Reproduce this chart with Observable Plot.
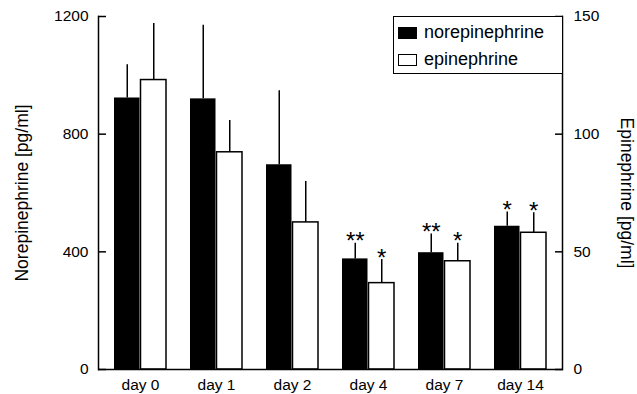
<!DOCTYPE html>
<html><head><meta charset="utf-8">
<script src="https://cdn.jsdelivr.net/npm/d3@7"></script>
<script src="https://cdn.jsdelivr.net/npm/@observablehq/plot@0.6"></script>
<style>
body{margin:0;background:#fff;}
#wrap{position:relative;width:637px;height:394px;font-family:"Liberation Sans",Arial,sans-serif;}
#legend{position:absolute;left:393px;top:16px;width:170px;height:58px;box-sizing:border-box;border:1.5px solid #000;background:#fff;font-size:18px;color:#000;}
.item{position:absolute;left:4px;display:flex;align-items:center;}
.sw{width:19px;height:12px;box-sizing:border-box;margin-right:7px;}
</style></head>
<body><div id="wrap"></div>
<script>
const days = ["day 0", "day 1", "day 2", "day 4", "day 7", "day 14"];
const norepinephrine = [923, 920, 696, 376, 397, 487];
const norepinephrineSD = [113, 250, 252, 53, 64, 48];
const epinephrine = [123, 92.3, 62.5, 36.7, 46, 58.1];
const epinephrineSD = [24, 13.5, 17.4, 10, 7.7, 8.5];
const norStars = ["", "", "", "**", "**", "*"];
const epiStars = ["", "", "", "*", "*", "*"];
const leftTicks = [0, 400, 800, 1200];
const ratio = 1200 / 150; // right axis 0–150 mapped onto left 0–1200

const nor = days.map((d, i) => ({day: d, v: norepinephrine[i], top: norepinephrine[i] + norepinephrineSD[i], star: norStars[i]}));
const epi = days.map((d, i) => ({day: d, v: epinephrine[i] * ratio, top: (epinephrine[i] + epinephrineSD[i]) * ratio, star: epiStars[i]}));

const half = 26.5;
const font = "'Liberation Sans', Arial, sans-serif";

const plot = Plot.plot({
  width: 637, height: 394,
  marginLeft: 98, marginRight: 75, marginTop: 16, marginBottom: 25,
  style: {fontFamily: font, background: "#fff", color: "#000"},
  x: {domain: days, paddingInner: 0.312, paddingOuter: 0.169},
  y: {domain: [0, 1200]},
  marks: [
    Plot.barY(nor, {x: "day", y: "v", fill: "black", insetRight: half}),
    Plot.barY(epi, {x: "day", y: "v", fill: "white", stroke: "black", strokeWidth: 1.5, insetLeft: half}),
    Plot.ruleX(nor, {x: "day", y1: "v", y2: "top", dx: -half / 2, strokeWidth: 1.5}),
    Plot.ruleX(epi, {x: "day", y1: "v", y2: "top", dx: half / 2, strokeWidth: 1.5}),
    Plot.text(nor, {x: "day", y: "top", text: "star", dx: -half / 2, fontSize: 24, lineAnchor: "bottom", dy: 6}),
    Plot.text(epi, {x: "day", y: "top", text: "star", dx: half / 2, fontSize: 24, lineAnchor: "bottom", dy: 6}),
    Plot.frame({anchor: "left", strokeWidth: 1.5}),
    Plot.frame({anchor: "right", strokeWidth: 1.5}),
    Plot.ruleY([0], {strokeWidth: 1.5}),
    Plot.axisY(leftTicks, {anchor: "left", tickSize: -8, tickPadding: 18, strokeWidth: 1.5, fontSize: 15.5, label: null, tickFormat: d => String(d)}),
    Plot.axisY(leftTicks, {anchor: "right", tickSize: -8, tickPadding: 19, strokeWidth: 1.5, fontSize: 15.5, label: null, tickFormat: d => String(d / ratio)}),
    Plot.axisX({tickSize: 0, tickPadding: 9, fontSize: 15.5, label: null}),
    Plot.text(["Norepinephrine [pg/ml]"], {frameAnchor: "left", textAnchor: "middle", dx: -76, rotate: -90, fontSize: 17.5}),
    Plot.text(["Epinephrine [pg/ml]"], {frameAnchor: "right", textAnchor: "middle", dx: 64, rotate: 90, fontSize: 17.5})
  ]
});
const wrap = document.getElementById("wrap");
wrap.appendChild(plot);
const legend = document.createElement("div");
legend.id = "legend";
legend.innerHTML = `
  <div class="item" style="top:5px"><div class="sw" style="background:#000"></div><span>norepinephrine</span></div>
  <div class="item" style="top:32px"><div class="sw" style="background:#fff;border:1.5px solid #000"></div><span>epinephrine</span></div>`;
wrap.appendChild(legend);
</script>
</body></html>
